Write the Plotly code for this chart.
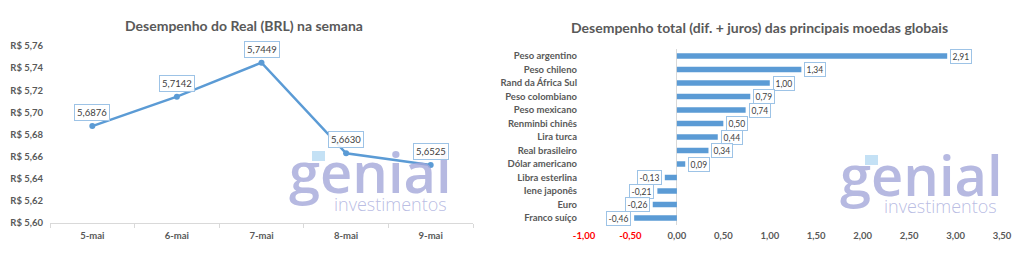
import plotly.graph_objects as go

# ---------------- data ----------------
days = ["5-mai", "6-mai", "7-mai", "8-mai", "9-mai"]
brl_values = [5.6876, 5.7142, 5.7449, 5.6630, 5.6525]
brl_ticks = [5.60, 5.62, 5.64, 5.66, 5.68, 5.70, 5.72, 5.74, 5.76]

currencies = ["Peso argentino", "Peso chileno", "Rand da África Sul", "Peso colombiano",
              "Peso mexicano", "Renminbi chinês", "Lira turca", "Real brasileiro",
              "Dólar americano", "Libra esterlina", "Iene japonês", "Euro", "Franco suíço"]
perf_values = [2.91, 1.34, 1.00, 0.79, 0.74, 0.50, 0.44, 0.34, 0.09, -0.13, -0.21, -0.26, -0.46]
perf_ticks = [-1.0, -0.5, 0.0, 0.5, 1.0, 1.5, 2.0, 2.5, 3.0, 3.5]

title_left = "Desempenho do Real (BRL) na semana"
title_right = "Desempenho total (dif. + juros) das principais moedas globais"

# ---------------- style ----------------
W, H = 1024, 259
FONT = "Lato"
GRAY = "#595959"
BLUE = "#5B9BD5"
BOX = "#9DC3E6"
AXIS = "#D9D9D9"
WM1 = "rgba(164,168,218,0.8)"
WM2 = "rgba(168,172,220,0.8)"
ACC = "rgba(190,222,244,0.9)"


def br(v, d):
    return f"{v:.{d}f}".replace(".", ",")


def px_x(p):
    return p / W


def px_y(p):
    return 1 - p / H


fig = go.Figure()

fig.add_trace(go.Scatter(
    x=days, y=brl_values, mode="lines+markers",
    line=dict(color=BLUE, width=2.5),
    marker=dict(size=6, color=BLUE),
    xaxis="x", yaxis="y", hoverinfo="skip", showlegend=False,
))

fig.add_trace(go.Bar(
    x=perf_values, y=currencies, orientation="h",
    marker=dict(color=BLUE), width=0.4,
    xaxis="x2", yaxis="y2", hoverinfo="skip", showlegend=False,
))

annotations = []
# watermarks
for cx, cy, cx2, cy2 in [(370, 171, 390, 204), (921, 174, 940, 206)]:
    annotations.append(dict(xref="paper", yref="paper", x=px_x(cx), y=px_y(cy),
                            text="genial", showarrow=False, xanchor="center", yanchor="middle",
                            font=dict(family="Open Sans", size=56, color=WM1, weight=600)))
    annotations.append(dict(xref="paper", yref="paper", x=px_x(cx2), y=px_y(cy2),
                            text="investimentos", showarrow=False, xanchor="center", yanchor="middle",
                            font=dict(family="Open Sans", size=18, color=WM2, weight=300)))

for d, v in zip(days, brl_values):
    annotations.append(dict(
        x=d, y=v, xref="x", yref="y", text=br(v, 4), showarrow=False,
        yanchor="bottom", yshift=5, bgcolor="rgba(255,255,255,0.9)",
        bordercolor=BOX, borderwidth=1, borderpad=2,
        font=dict(family=FONT, size=9.5, color="#404040"),
    ))

for c, v in zip(currencies, perf_values):
    pos = v >= 0
    annotations.append(dict(
        x=v, y=c, xref="x2", yref="y2", text=br(v, 2), showarrow=False,
        xanchor="left" if pos else "right", xshift=3 if pos else -3,
        yanchor="middle", bgcolor="rgba(255,255,255,0.9)",
        bordercolor=BOX, borderwidth=1, borderpad=1.5,
        font=dict(family=FONT, size=8.5, color="#404040"),
    ))

annotations.append(dict(xref="paper", yref="paper", x=px_x(244), y=px_y(25), text=f"<b>{title_left}</b>",
                        showarrow=False, xanchor="center", yanchor="middle",
                        font=dict(family=FONT, size=14, color=GRAY)))
annotations.append(dict(xref="paper", yref="paper", x=px_x(759), y=px_y(27), text=f"<b>{title_right}</b>",
                        showarrow=False, xanchor="center", yanchor="middle",
                        font=dict(family=FONT, size=14, color=GRAY)))

shapes = [
    dict(type="rect", xref="paper", yref="paper", x0=px_x(312), x1=px_x(325), y0=px_y(161), y1=px_y(151),
         fillcolor=ACC, line=dict(width=0), layer="below"),
    dict(type="rect", xref="paper", yref="paper", x0=px_x(865), x1=px_x(878), y0=px_y(165), y1=px_y(155),
         fillcolor=ACC, line=dict(width=0), layer="below"),
]

tickfont = dict(family=FONT, size=9.5, color=GRAY)
perf_ticktext = [(f"<span style='color:#FF0000'>{br(t, 2)}</span>" if t < 0 else br(t, 2)) for t in perf_ticks]

fig.update_layout(
    template="none",
    width=W, height=H, autosize=False,
    margin=dict(l=0, r=0, t=0, b=0, pad=0),
    paper_bgcolor="white", plot_bgcolor="rgba(0,0,0,0)",
    font=dict(family=FONT, color=GRAY),
    xaxis=dict(domain=[px_x(50), px_x(473)], type="category", range=[-0.5, 4.5],
               automargin=False,
               showline=True, linecolor=AXIS, linewidth=1,
               ticks="outside", tickson="boundaries", ticklen=4, tickcolor=AXIS,
               showgrid=False, zeroline=False,
               tickvals=days, ticktext=[f"<b>{d}</b>" for d in days],
               ticklabelstandoff=4,
               tickfont=dict(family=FONT, size=9.5, color=GRAY), anchor="y"),
    yaxis=dict(domain=[px_y(223), px_y(46)], range=[5.60, 5.76], automargin=False,
               tickvals=brl_ticks, ticktext=[f"<b>R$ {br(t, 2)}</b>" for t in brl_ticks],
               showgrid=False, zeroline=False, showline=False, ticks="",
               ticklabelstandoff=6,
               tickfont=tickfont, anchor="x"),
    xaxis2=dict(domain=[px_x(584), px_x(1002)], range=[-1.0, 3.5], automargin=False,
                tickvals=perf_ticks, ticktext=[f"<b>{t}</b>" for t in perf_ticktext],
                showgrid=False, showline=False, ticks="",
                zeroline=True, zerolinecolor=AXIS, zerolinewidth=1,
                ticklabelstandoff=4,
                tickfont=tickfont, anchor="y2"),
    yaxis2=dict(domain=[px_y(224.75), px_y(49.25)], type="category", automargin=False,
                categoryorder="array", categoryarray=currencies, range=[12.5, -0.5],
                ticktext=[f"<b>{c}</b>" for c in currencies], tickvals=currencies,
                showgrid=False, zeroline=False, showline=False, ticks="",
                ticklabelstandoff=6,
                tickfont=dict(family=FONT, size=9.5, color=GRAY), anchor="x2"),
    annotations=annotations,
    shapes=shapes,
)

fig.write_html("out.html")
